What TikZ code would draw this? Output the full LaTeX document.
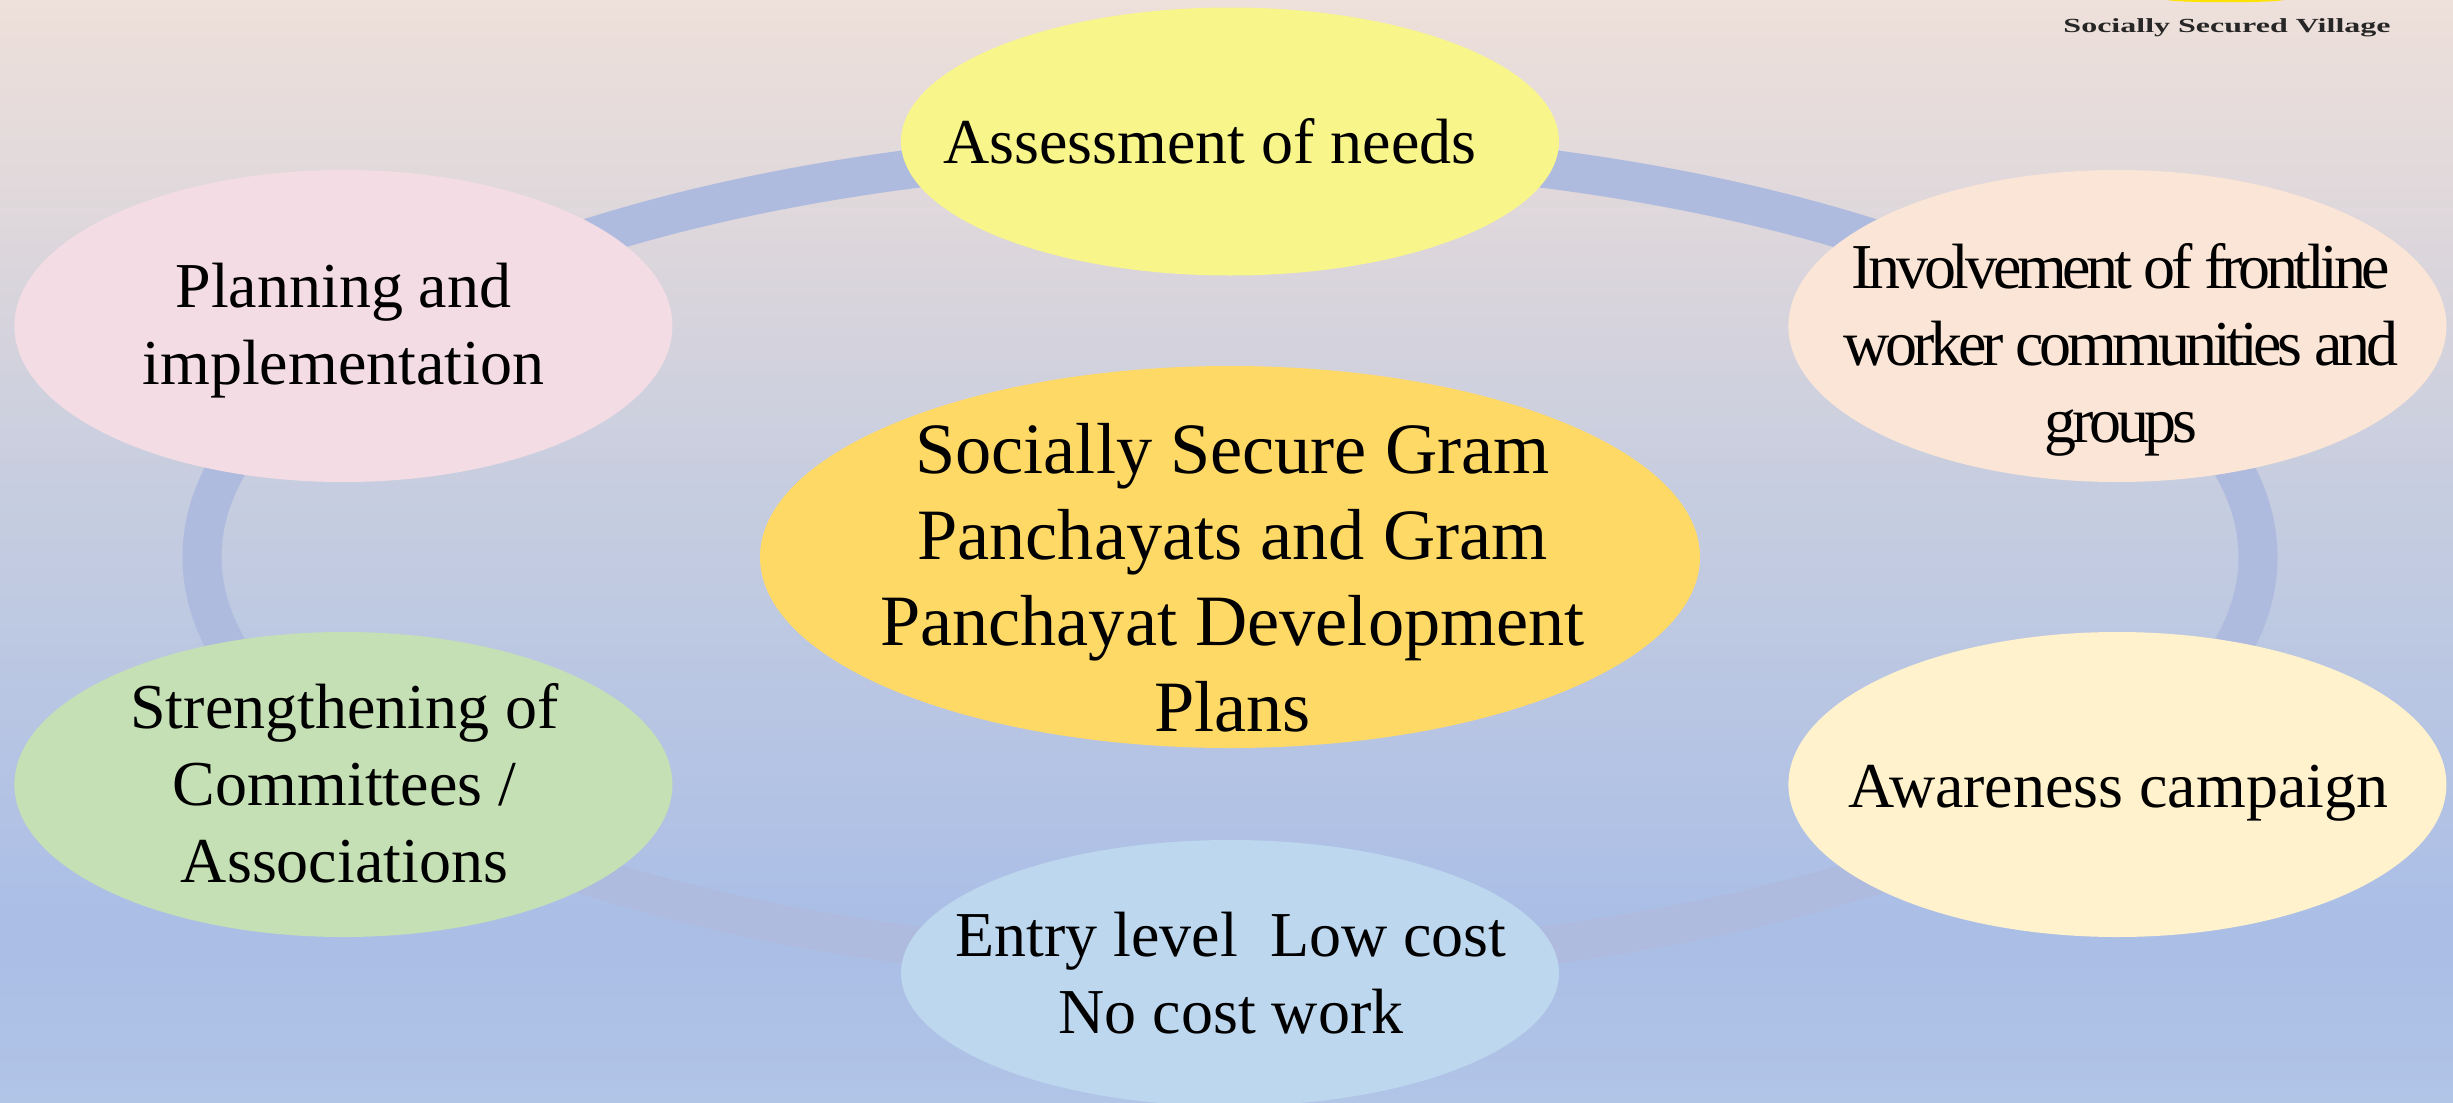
\documentclass[tikz,border=0pt]{standalone}
\usepackage{fontspec}
\setmainfont{Liberation Serif}
\usetikzlibrary{shapes.geometric}
\definecolor{bgA}{HTML}{B1C5E7}
\definecolor{bgB}{HTML}{AEC1E6}
\definecolor{bgC}{HTML}{AABEE6}
\definecolor{bgD}{HTML}{C6CDE0}
\definecolor{bgE}{HTML}{DAD5DC}
\definecolor{bgF}{HTML}{EEE0DA}
\definecolor{ringblue}{HTML}{AFBBDE}
\definecolor{hubfill}{HTML}{FED966}
\definecolor{yellowfill}{HTML}{F8F58A}
\definecolor{pinkfill}{HTML}{F3DCE3}
\definecolor{peachfill}{HTML}{FBE5D6}
\definecolor{creamfill}{HTML}{FFF2CC}
\definecolor{greenfill}{HTML}{C5E0B4}
\definecolor{bluefill}{HTML}{BDD7EE}
\pgfdeclareverticalshading{bgfade}{100bp}{
  color(0bp)=(bgA);
  color(25bp)=(bgA);
  color(28bp)=(bgB);
  color(33bp)=(bgC);
  color(52.5bp)=(bgD);
  color(62.5bp)=(bgE);
  color(75bp)=(bgF);
  color(100bp)=(bgF)}
\tikzset{
  every node/.style={inner sep=0pt,outer sep=0pt},
  oval/.style={ellipse,minimum width=658pt},
  ovaltext/.style={align=center,text=black,font=\fontsize{64}{77}\selectfont},
  ringband/.style={draw=ringblue,line width=39pt}
}
\begin{document}
\begin{tikzpicture}[x=1pt,y=-1pt]
\useasboundingbox (0,0) rectangle (2453,1103);
\shade[shading=bgfade] (0,0) rectangle (2453,1103);
\coordinate (ringc) at (1230,557);
\draw[ringband] (ringc) ellipse [x radius=1028pt,y radius=408pt];
\node[ellipse,minimum width=940pt,minimum height=382pt,fill=hubfill] (hub) at (1230,557) {};
\node[ovaltext,font=\fontsize{72.3}{86}\selectfont] (hubtext) at (1232.5,578) {Socially Secure Gram\\Panchayats and Gram\\Panchayat Development\\Plans};
\node[oval,minimum height=268pt,fill=yellowfill] (needs) at (1230,141.5) {};
\node[ovaltext] (needstext) at (1210,141.5) {Assessment of needs};
\node[oval,minimum height=312pt,fill=pinkfill] (plan) at (343.4,326) {};
\node[ovaltext] (plantext) at (343.4,331) {Planning and\\implementation};
\node[oval,minimum height=312pt,fill=peachfill] (front) at (2117.4,326) {};
\node[ovaltext,font=\fontsize{64}{77}\selectfont\addfontfeature{LetterSpace=-6.75}] (fronttext) at (2121,350) {Involvement of frontline\\worker communities and\\groups};
\node[oval,minimum height=305pt,fill=greenfill] (comm) at (343.4,784.5) {};
\node[ovaltext] (commtext) at (344.5,783) {Strengthening of\\Committees /\\Associations};
\node[oval,minimum height=305pt,fill=creamfill] (aware) at (2117.4,784.5) {};
\node[ovaltext] (awaretext) at (2118.5,793.5) {Awareness campaign};
\node[oval,minimum height=266pt,fill=bluefill] (entry) at (1230,973) {};
\node[ovaltext] (entrytext) at (1231,973) {Entry level\ \ Low cost\\No cost work};
\fill[yellow!85!orange] (2167,0) -- (2284,0) .. controls (2270,3) and (2180,3) .. (2167,0) -- cycle;
\node[xscale=1.6,text=black!85,font=\fontsize{20}{24}\selectfont\bfseries] (brand) at (2227,28) {Socially Secured Village};
\end{tikzpicture}
\end{document}
